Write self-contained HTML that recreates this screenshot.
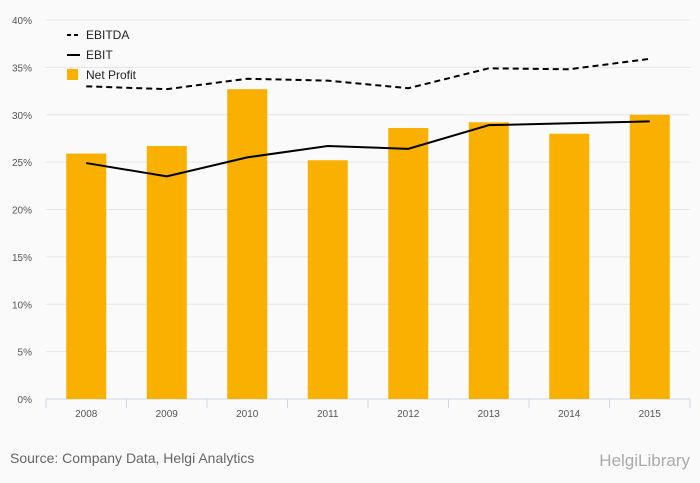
<!DOCTYPE html>
<html><head><meta charset="utf-8"><style>
body{margin:0;background:#fafafa;font-family:"Liberation Sans",sans-serif;}
svg{display:block}
</style></head><body>
<svg id="chart" width="700" height="483">
<rect width="700" height="483" fill="#fafafa"/>
<g id="grid"></g><g id="bars"></g><g id="lines"></g><g id="axes"></g>
<g font-size="12" fill="#222">
<line x1="67" y1="35" x2="80" y2="35" stroke="#000" stroke-width="2" stroke-dasharray="4,3"/>
<text x="86" y="39">EBITDA</text>
<line x1="67" y1="55" x2="80" y2="55" stroke="#000" stroke-width="2"/>
<text x="86" y="59">EBIT</text>
<rect x="67" y="69" width="11" height="11" fill="#f9b000"/>
<text x="86" y="79">Net Profit</text>
</g>
<text x="10" y="463" font-size="14" fill="#666">Source: Company Data, Helgi Analytics</text>
<text x="690" y="466" font-size="17" fill="#aaa" text-anchor="end">HelgiLibrary</text>
</svg>
<script>
const categories=["2008","2009","2010","2011","2012","2013","2014","2015"];
const netProfit=[25.9,26.7,32.7,25.2,28.6,29.2,28.0,30.0];
const ebitda=[33.0,32.7,33.8,33.6,32.8,34.9,34.8,35.9];
const ebit=[24.9,23.5,25.5,26.7,26.4,28.9,29.1,29.3];
const yTicks=[0,5,10,15,20,25,30,35,40];
const NS="http://www.w3.org/2000/svg";
const x0=46,x1=690,yB=399,yT=20,ymax=40;
const step=(x1-x0)/categories.length;
const xs=i=>x0+step*(i+0.5);
const ys=v=>yB-(v/ymax)*(yB-yT);
function mk(t,a,p){const e=document.createElementNS(NS,t);for(const k in a)e.setAttribute(k,a[k]);p.appendChild(e);return e;}
const grid=document.getElementById('grid'),bars=document.getElementById('bars'),lines=document.getElementById('lines'),axes=document.getElementById('axes');
yTicks.forEach(v=>{
 const l=mk('line',{x1:x0,x2:x1,y1:ys(v),y2:ys(v),stroke:v===0?'#ccd6eb':'#e6e6e6'},grid);
 
 
 const t=mk('text',{x:32,y:ys(v)+4,'font-size':10,fill:'#555','text-anchor':'end'},axes);
 t.textContent=v+'%';
 
 
});
for(let i=0;i<=categories.length;i++){
 const l=mk('line',{x1:x0+step*i,x2:x0+step*i,y1:yB,y2:yB+9,stroke:'#ccd6eb'},axes);
 
 
}
categories.forEach((c,i)=>{
 const b=mk('rect',{x:xs(i)-20,width:40,y:ys(netProfit[i]),height:yB-ys(netProfit[i]),fill:'#f9b000'},bars);
 
 
 const t=mk('text',{x:xs(i),y:417,'font-size':10,fill:'#555','text-anchor':'middle'},axes);
 t.textContent=c;
 
 
});
const p1=mk('polyline',{points:ebitda.map((v,i)=>xs(i)+','+ys(v)).join(' '),fill:'none',stroke:'#000','stroke-width':2,'stroke-dasharray':'6,4'},lines);


const p2=mk('polyline',{points:ebit.map((v,i)=>xs(i)+','+ys(v)).join(' '),fill:'none',stroke:'#000','stroke-width':2},lines);


</script>
</body></html>
